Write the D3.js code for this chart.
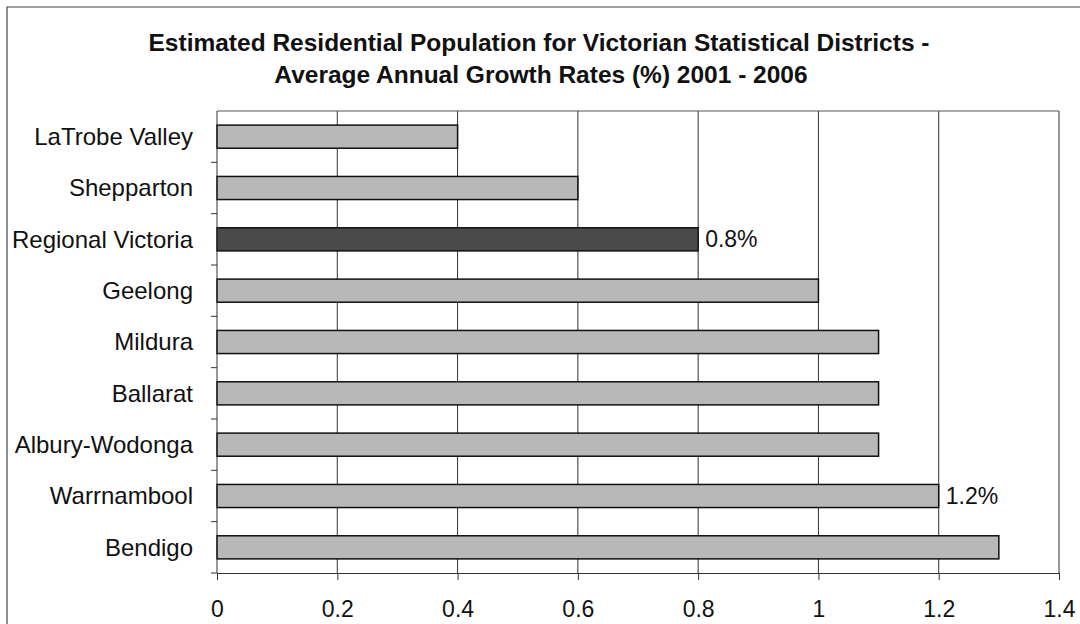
<!DOCTYPE html>
<html><head><meta charset="utf-8">
<script src="https://cdn.jsdelivr.net/npm/d3@7"></script>
<style>body{margin:0;background:#fff}svg{display:block}text{font-family:"Liberation Sans",Arial,sans-serif;fill:#111}</style>
</head><body><svg id="c" width="1080" height="624"></svg>
<script>
const categories = ["LaTrobe Valley","Shepparton","Regional Victoria","Geelong","Mildura","Ballarat","Albury-Wodonga","Warrnambool","Bendigo"];
const values = [0.4,0.6,0.8,1.0,1.1,1.1,1.1,1.2,1.3];
const labelled = {"Regional Victoria":"0.8%","Warrnambool":"1.2%"};
const xTicks = [0,0.2,0.4,0.6,0.8,1,1.2,1.4];
const titleLines = ["Estimated Residential Population for Victorian Statistical Districts -","Average Annual Growth Rates (%) 2001 - 2006"];

const svg = d3.select("#c");
const L=217,R=1059,T=111,B=573;
const FS=23;
const x = d3.scaleLinear().domain([0,1.4]).range([L,R]);
const y = d3.scaleBand().domain(categories).range([T,B]).paddingInner(0.55).paddingOuter(0.275);
const yb = d3.scaleBand().domain(categories).range([T,B]);

// outer border (left/top visible)
svg.append("path").attr("d",`M7,624 L7,7 L1080,7`).attr("fill","none").attr("stroke","#444").attr("stroke-width",1.2);

// title
svg.append("text").attr("x",539).attr("y",51).attr("text-anchor","middle").attr("font-weight","bold").attr("font-size",24.5).text(titleLines[0]);
svg.append("text").attr("x",541).attr("y",83).attr("text-anchor","middle").attr("font-weight","bold").attr("font-size",24.5).text(titleLines[1]);

// gridlines
svg.append("g").selectAll("line").data(xTicks.slice(1)).join("line")
  .attr("x1",d=>x(d)).attr("x2",d=>x(d)).attr("y1",T).attr("y2",B)
  .attr("stroke","#333").attr("stroke-width",1);
// top border
svg.append("line").attr("x1",L).attr("x2",R).attr("y1",T).attr("y2",T).attr("stroke","#555").attr("stroke-width",1);

// bars
svg.append("g").selectAll("rect").data(categories).join("rect")
  .attr("x",x(0)).attr("y",d=>y(d)).attr("width",(d,i)=>x(values[i])-x(0)).attr("height",y.bandwidth())
  .attr("fill",d=>d==="Regional Victoria"?"#4a4a4a":"#b8b8b8")
  .attr("stroke","#111").attr("stroke-width",1.5);

// data labels
svg.append("g").selectAll("text").data(categories.filter(c=>labelled[c])).join("text")
  .attr("x",d=>x(values[categories.indexOf(d)])+7).attr("y",d=>y(d)+y.bandwidth()/2)
  .attr("dy","0.35em").attr("font-size",FS).text(d=>labelled[d]);

// x axis
const xa = svg.append("g").attr("transform",`translate(0,${B})`)
  .call(d3.axisBottom(x).tickValues(xTicks).tickSize(7).tickPadding(21).tickFormat(d3.format("")));
xa.select(".domain").attr("stroke","#333");
xa.selectAll(".tick line").attr("stroke","#333");
xa.selectAll("text").attr("font-size",FS).attr("font-family","Liberation Sans, Arial, sans-serif").attr("fill","#111");

// y axis: ticks at band boundaries
const ya = svg.append("g");
ya.append("line").attr("x1",L).attr("x2",L).attr("y1",T).attr("y2",B).attr("stroke","#333");
ya.selectAll("line.t").data(categories.slice(1).concat(["__end"])).join("line").attr("class","t")
  .attr("x1",L-6).attr("x2",L).attr("y1",(d,i)=>i<categories.length-1?yb(d):B).attr("y2",(d,i)=>i<categories.length-1?yb(d):B)
  .attr("stroke","#333");
ya.selectAll("text").data(categories).join("text")
  .attr("x",L-24).attr("y",d=>yb(d)+yb.bandwidth()/2).attr("dy","0.35em")
  .attr("text-anchor","end").attr("font-size",24).text(d=>d);
</script></body></html>
